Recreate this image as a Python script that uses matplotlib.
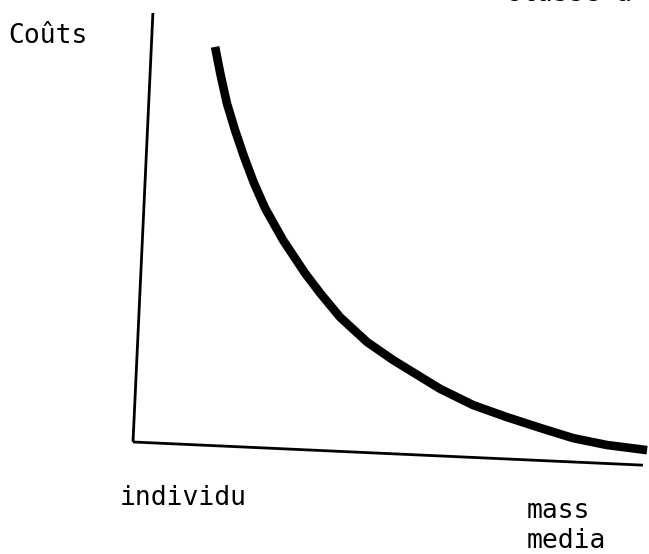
import matplotlib
matplotlib.use("Agg")
import matplotlib.pyplot as plt

# Curve: cost vs. audience scale (from individual to mass media), abstract units
curve_x = [1.61, 1.71, 1.84, 2.00, 2.18, 2.37, 2.59, 2.94, 3.37, 3.67, 4.06,
           4.59, 5.10, 6.02, 6.67, 7.33, 7.98, 8.63, 9.29, 10.08]
curve_y = [9.21, 8.60, 7.90, 7.27, 6.64, 6.04, 5.45, 4.71, 3.94, 3.47, 2.91,
           2.33, 1.91, 1.24, 0.86, 0.58, 0.33, 0.09, -0.07, -0.19]

# Hand-drawn axes (slightly slanted in the scan)
yaxis_x = [0.0, 0.39]
yaxis_y = [0.0, 10.0]
xaxis_x = [0.0, 10.0]
xaxis_y = [0.0, -0.54]

ylabel = "Coûts"
xlabel_left = "individu"
xlabel_right_1 = "mass"
xlabel_right_2 = "media"
top_fragment = "classe a"

fig = plt.figure(figsize=(6.49, 5.54), dpi=100)
ax = fig.add_axes([0, 0, 1, 1])
ax.set_xlim(-2.608, 10.118)
ax.set_ylim(-2.611, 10.303)
ax.axis("off")

ax.plot(yaxis_x, yaxis_y, color="black", lw=2.0, solid_capstyle="butt")
ax.plot(xaxis_x, xaxis_y, color="black", lw=2.0, solid_capstyle="butt")
ax.plot(curve_x, curve_y, color="black", lw=6.2, solid_capstyle="butt",
        solid_joinstyle="round")

font = dict(family="DejaVu Sans Mono", color="black", fontsize=19,
            va="baseline", ha="left", transform=ax.transAxes)
ax.text(0.012, 0.9224, ylabel, **font)
ax.text(0.185, 0.0884, xlabel_left, **font)
ax.text(0.812, 0.0650, xlabel_right_1, **font)
ax.text(0.812, 0.0110, xlabel_right_2, **font)
ax.text(0.778, 0.9975, top_fragment, clip_on=False, **font)

fig.savefig("out.png", dpi=100, facecolor="white")
